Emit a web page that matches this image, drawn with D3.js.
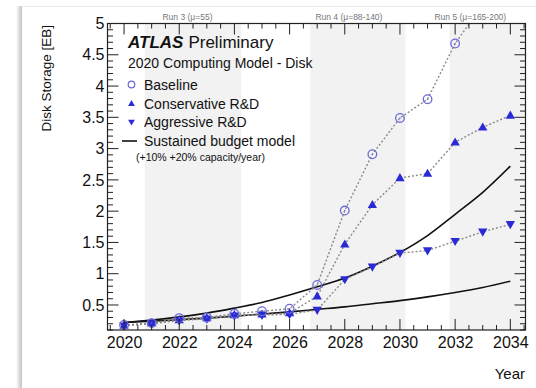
<!DOCTYPE html>
<html>
<head>
<meta charset="utf-8">
<script src="https://cdn.jsdelivr.net/npm/d3@7"></script>
<style>
  html, body { margin: 0; padding: 0; background: #ffffff; }
  svg { display: block; font-family: "Liberation Sans", Arial, Helvetica, sans-serif; }
</style>
</head>
<body>
<svg id="chart" width="536" height="388"></svg>
<script>
// Projected ATLAS disk storage needs per year [EB]
const years = [2020, 2021, 2022, 2023, 2024, 2025, 2026, 2027, 2028, 2029, 2030, 2031, 2032, 2033, 2034];
const baseline     = [0.18, 0.21, 0.29, 0.30, 0.36, 0.40, 0.44, 0.82, 2.01, 2.91, 3.49, 3.79, 4.68, 5.30, 5.90];
const conservative = [0.17, 0.21, 0.26, 0.29, 0.34, 0.35, 0.37, 0.64, 1.47, 2.10, 2.53, 2.60, 3.10, 3.34, 3.53];
const aggressive   = [0.17, 0.20, 0.25, 0.28, 0.33, 0.34, 0.35, 0.42, 0.91, 1.11, 1.33, 1.37, 1.52, 1.67, 1.79];
// Flat-budget capacity curves (+10%/year and +20%/year)
const budget10 = [0.22, 0.24, 0.265, 0.29, 0.32, 0.355, 0.39, 0.43, 0.47, 0.52, 0.57, 0.63, 0.70, 0.78, 0.88];
const budget20 = [0.22, 0.26, 0.31, 0.37, 0.45, 0.54, 0.66, 0.79, 0.93, 1.12, 1.34, 1.61, 1.95, 2.30, 2.72];
// LHC run periods shown as shaded bands
const runLabels = ["Run 3 (\u03bc=55)", "Run 4 (\u03bc=88-140)", "Run 5 (\u03bc=165-200)"];
const runStart  = [2020.75, 2026.75, 2031.8];
const runEnd    = [2024.25, 2030.2, 2034.55];
const runLabelYear = [2022.3, 2028.15, 2032.55];
const xTicks = [2020, 2022, 2024, 2026, 2028, 2030, 2032, 2034];
const yTicks = [0.5, 1, 1.5, 2, 2.5, 3, 3.5, 4, 4.5, 5];

const svg = d3.select("#chart");
const W = 536, H = 388;

// page card with a soft shadow on its left and top edges
const defs = svg.append("defs");
const sh = defs.append("linearGradient").attr("id", "shadowL").attr("x1", 0).attr("x2", 1);
sh.append("stop").attr("offset", 0).attr("stop-color", "#ffffff");
sh.append("stop").attr("offset", 0.6).attr("stop-color", "#d8d8d8");
sh.append("stop").attr("offset", 1).attr("stop-color", "#c4c4c4");
svg.append("rect").attr("x", 16).attr("y", 6).attr("width", 6).attr("height", H).attr("fill", "url(#shadowL)");
svg.append("line").attr("x1", 22).attr("x2", W).attr("y1", 6.5).attr("y2", 6.5)
  .attr("stroke", "#e8e8e8").attr("stroke-width", 1);
svg.append("rect").attr("x", 22).attr("y", 7).attr("width", W - 22).attr("height", H - 7).attr("fill", "#ffffff");

const pLeft = 107.5, pRight = 525.5, pTop = 23.5, pBottom = 330;
const x = d3.scaleLinear().domain([2019.4, 2034.55]).range([pLeft, pRight]);
const y = d3.scaleLinear().domain([0.1, 5]).range([pBottom, pTop]);

defs.append("clipPath").attr("id", "plotclip")
  .append("rect").attr("x", pLeft).attr("y", pTop).attr("width", pRight - pLeft).attr("height", pBottom - pTop);

// run bands
const bands = svg.append("g");
runStart.forEach((s, i) => {
  bands.append("rect")
    .attr("x", x(s)).attr("y", pTop)
    .attr("width", x(Math.min(runEnd[i], 2034.55)) - x(s))
    .attr("height", pBottom - pTop)
    .attr("fill", "#f2f2f2");
  svg.append("text")
    .attr("x", x(runLabelYear[i])).attr("y", 20)
    .attr("text-anchor", "middle")
    .attr("font-size", 8.5).attr("fill", "#777")
    .text(runLabels[i]);
});

const plot = svg.append("g").attr("clip-path", "url(#plotclip)");

// budget curves
const smooth = d3.line().x((d, i) => x(years[i])).y(d => y(d)).curve(d3.curveCatmullRom.alpha(0.5));
[budget10, budget20].forEach(arr => {
  plot.append("path").attr("d", smooth(arr))
    .attr("fill", "none").attr("stroke", "#111").attr("stroke-width", 1.6);
});

// dotted connectors
const straight = d3.line().x((d, i) => x(years[i])).y(d => y(d));
[baseline, conservative, aggressive].forEach(arr => {
  plot.append("path").attr("d", straight(arr))
    .attr("fill", "none").attr("stroke", "#8a8a8a").attr("stroke-width", 1.4)
    .attr("stroke-dasharray", "2,2");
});

const blue = "#2b2bd6";
const triUp = d3.symbol().type(d3.symbolTriangle).size(38);

// aggressive: downward triangles
plot.selectAll(".agg").data(aggressive).enter().append("path")
  .attr("d", triUp())
  .attr("transform", (d, i) => `translate(${x(years[i])},${y(d) - 0.5}) rotate(180)`)
  .attr("fill", blue);
// conservative: upward triangles
plot.selectAll(".cons").data(conservative).enter().append("path")
  .attr("d", triUp())
  .attr("transform", (d, i) => `translate(${x(years[i])},${y(d) + 0.5})`)
  .attr("fill", blue);
// baseline: open circles
const circ = plot.selectAll(".base").data(baseline).enter().append("g")
  .attr("transform", (d, i) => `translate(${x(years[i])},${y(d)})`);
circ.append("circle").attr("r", 4.3).attr("fill", "none").attr("stroke", "#6a6ad8").attr("stroke-width", 1.3);
circ.append("circle").attr("r", 0.8).attr("fill", "#6a6ad8");

// frame
svg.append("rect").attr("x", pLeft).attr("y", pTop).attr("width", pRight - pLeft).attr("height", pBottom - pTop)
  .attr("fill", "none").attr("stroke", "#222").attr("stroke-width", 1.2);

// ticks on all four sides, pointing inward
const ax = svg.append("g").attr("stroke", "#222").attr("stroke-width", 1);
const xMinor = d3.range(2019.5, 2034.51, 0.5);
xMinor.forEach(v => {
  const major = xTicks.includes(v);
  const L = major ? 11 : 5;
  ax.append("line").attr("x1", x(v)).attr("x2", x(v)).attr("y1", pBottom).attr("y2", pBottom - L);
  ax.append("line").attr("x1", x(v)).attr("x2", x(v)).attr("y1", pTop).attr("y2", pTop + L);
});
const yMinor = d3.range(0.1, 5.001, 0.1).map(v => Math.round(v * 10) / 10);
yMinor.forEach(v => {
  const major = yTicks.includes(v);
  const L = major ? 11 : 5.5;
  ax.append("line").attr("y1", y(v)).attr("y2", y(v)).attr("x1", pLeft).attr("x2", pLeft + L);
  ax.append("line").attr("y1", y(v)).attr("y2", y(v)).attr("x1", pRight).attr("x2", pRight - L);
});

// axis labels via d3 axes (labels only)
const xAxis = svg.append("g").attr("transform", `translate(0,${pBottom})`)
  .call(d3.axisBottom(x).tickValues(xTicks).tickFormat(d3.format("d")).tickSize(0).tickPadding(7));
xAxis.select(".domain").remove();
xAxis.selectAll("text").attr("font-size", 16).attr("fill", "#111")
  .attr("font-family", "'Liberation Sans', Arial, sans-serif");

const yAxis = svg.append("g").attr("transform", `translate(${pLeft},0)`)
  .call(d3.axisLeft(y).tickValues(yTicks).tickFormat(d => String(d)).tickSize(0).tickPadding(3));
yAxis.select(".domain").remove();
yAxis.selectAll("text").attr("font-size", 16).attr("fill", "#111")
  .attr("font-family", "'Liberation Sans', Arial, sans-serif");

svg.append("text").attr("x", 525).attr("y", 379).attr("text-anchor", "end")
  .attr("font-size", 15).attr("fill", "#111").text("Year");
svg.append("text").attr("transform", "translate(51,25) rotate(-90)").attr("text-anchor", "end")
  .attr("font-size", 13.5).attr("fill", "#111").text("Disk Storage [EB]");

// title block
const t = svg.append("text").attr("x", 128).attr("y", 48).attr("fill", "#111").attr("font-size", 17);
t.append("tspan").attr("font-weight", "bold").attr("font-style", "italic").text("ATLAS");
t.append("tspan").attr("dx", 5).text("Preliminary");
svg.append("text").attr("x", 128).attr("y", 68).attr("font-size", 14).attr("fill", "#111")
  .text("2020 Computing Model - Disk");

// legend
const lg = svg.append("g");
const rowY = [84.5, 104, 121.7, 141];
const names = ["Baseline", "Conservative R&D", "Aggressive R&D", "Sustained budget model"];
names.forEach((n, i) => {
  lg.append("text").attr("x", 144).attr("y", rowY[i] + 5).attr("font-size", 14).attr("fill", "#111").text(n);
});
lg.append("circle").attr("cx", 131.5).attr("cy", rowY[0]).attr("r", 3.3)
  .attr("fill", "none").attr("stroke", "#6a6ad8").attr("stroke-width", 1.2);
lg.append("path").attr("d", d3.symbol().type(d3.symbolTriangle).size(20)())
  .attr("transform", `translate(131.5,${rowY[1]})`).attr("fill", blue);
lg.append("path").attr("d", d3.symbol().type(d3.symbolTriangle).size(20)())
  .attr("transform", `translate(131.5,${rowY[2]}) rotate(180)`).attr("fill", blue);
lg.append("line").attr("x1", 122).attr("x2", 137).attr("y1", rowY[3]).attr("y2", rowY[3])
  .attr("stroke", "#111").attr("stroke-width", 1.6);
svg.append("text").attr("x", 136).attr("y", 161).attr("font-size", 10.5).attr("fill", "#111")
  .text("(+10% +20% capacity/year)");
</script>
</body>
</html>
